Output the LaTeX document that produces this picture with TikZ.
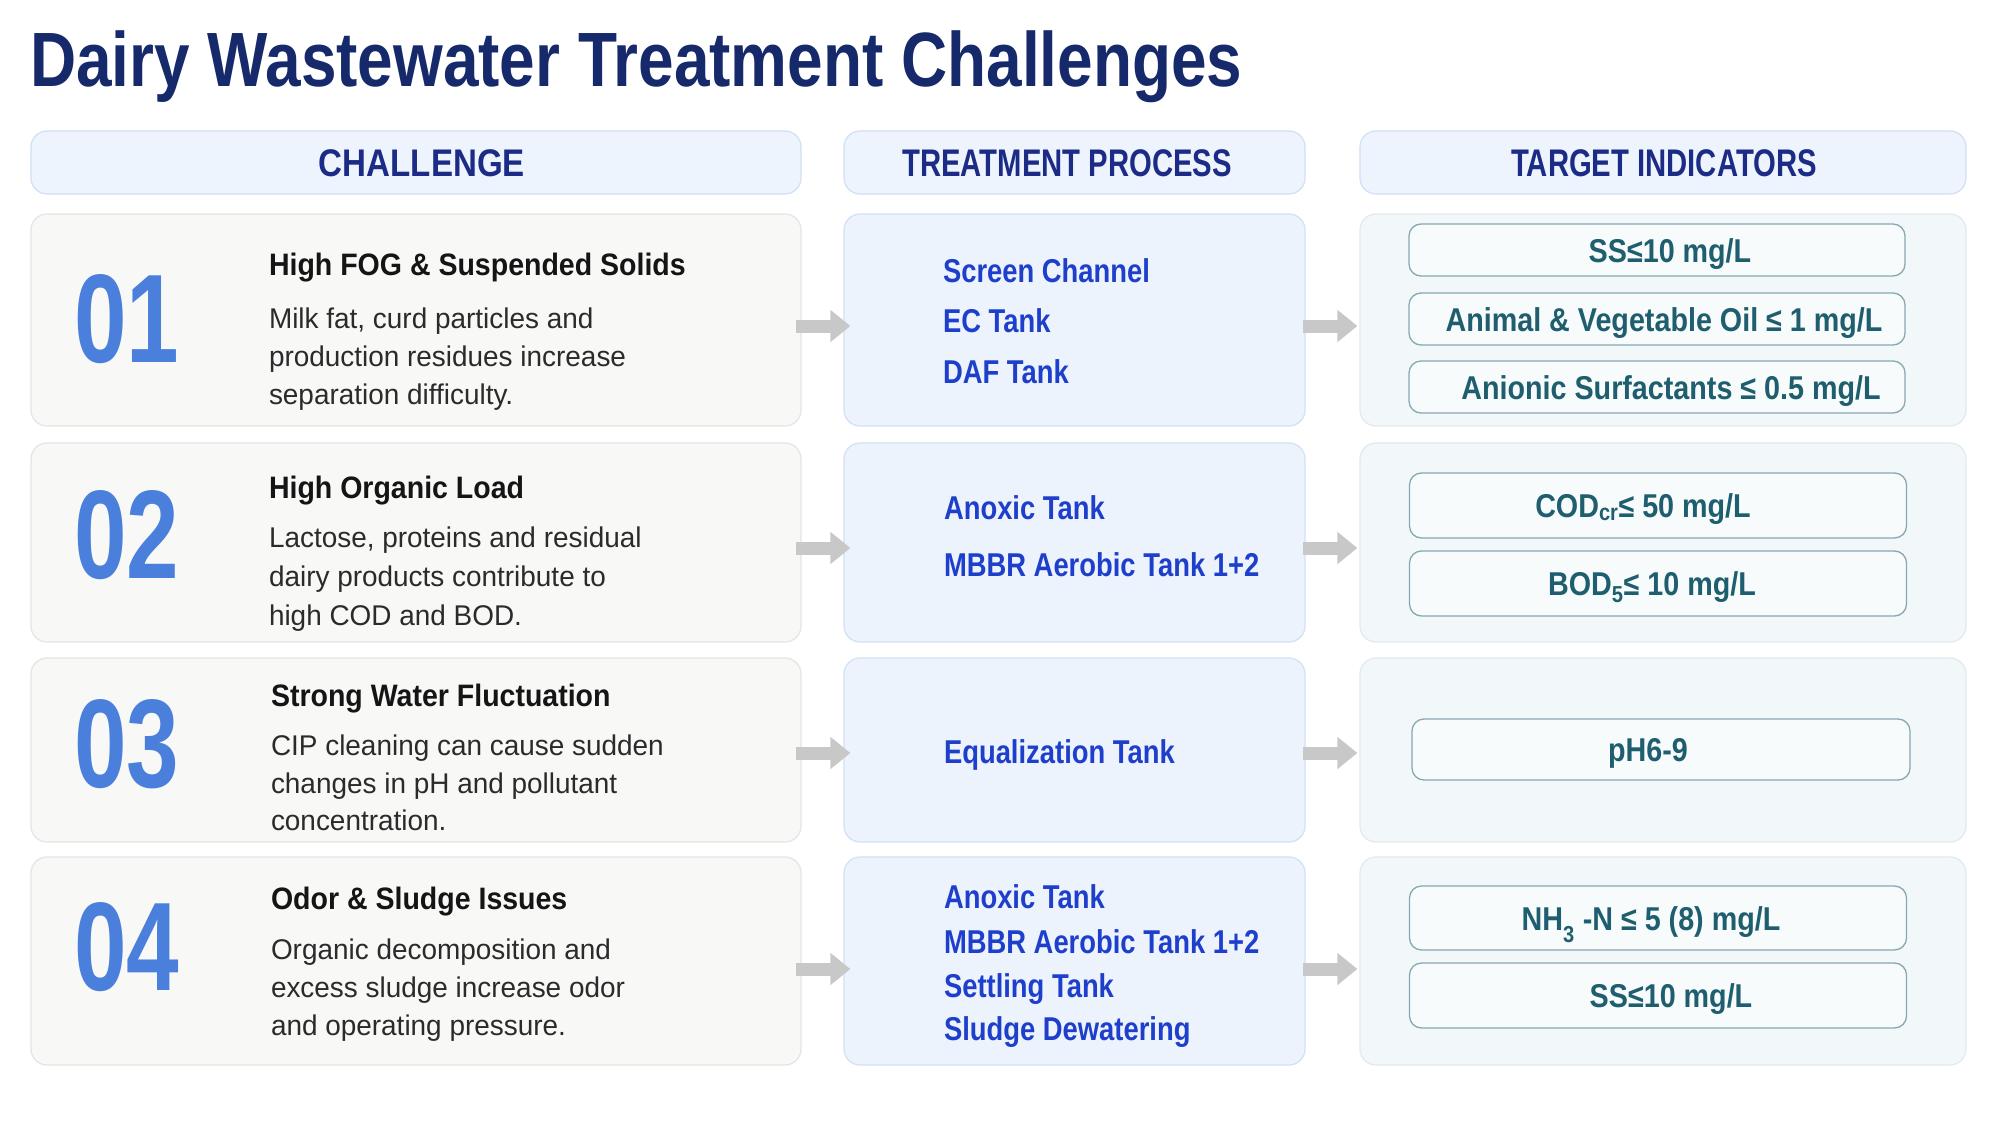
\documentclass[tikz,border=0pt]{standalone}
\usepackage{fontspec}
\setmainfont{Liberation Sans}
\newfontfamily\titlefont{Liberation Sans}[FakeStretch=0.83]
\newfontfamily\hdrfont{Liberation Sans}[FakeStretch=0.76]
\newfontfamily\hdrwfont{Liberation Sans}[FakeStretch=0.86]
\newfontfamily\numfont{Liberation Sans}[FakeStretch=0.75]
\newfontfamily\headfont{Liberation Sans}[FakeStretch=0.92]
\newfontfamily\bodyfont{Liberation Sans}[FakeStretch=0.98]
\newfontfamily\procfont{Liberation Sans}[FakeStretch=0.83]
\newfontfamily\targfont{Liberation Sans}[FakeStretch=0.87]
\usetikzlibrary{arrows.meta}
\definecolor{titlec}{HTML}{15296B}
\definecolor{hdrc}{HTML}{1C2C86}
\definecolor{numc}{HTML}{4A7FDB}
\definecolor{headc}{HTML}{151515}
\definecolor{bodyc}{HTML}{2B2B2B}
\definecolor{procc}{HTML}{1E3FCB}
\definecolor{targc}{HTML}{1F5E6E}
\definecolor{arrc}{HTML}{C8C8C8}
\definecolor{hdrfill}{HTML}{EEF4FD}
\definecolor{hdrdraw}{HTML}{D0E0F4}
\definecolor{chfill}{HTML}{F8F8F7}
\definecolor{chdraw}{HTML}{E4E4E2}
\definecolor{prfill}{HTML}{EDF3FC}
\definecolor{prdraw}{HTML}{D2E1F5}
\definecolor{tgfill}{HTML}{F2F7FA}
\definecolor{tgdraw}{HTML}{E0EAF0}
\definecolor{inbfill}{HTML}{F8FBFC}
\definecolor{inbdraw}{HTML}{86A8B0}
\begin{document}
\begin{tikzpicture}[x=1pt,y=-1pt,
  panel/.style={rectangle, rounded corners=16pt, line width=1.2pt, inner sep=0pt},
  hdrbox/.style={panel, fill=hdrfill, draw=hdrdraw},
  chbox/.style={panel, fill=chfill, draw=chdraw},
  prbox/.style={panel, fill=prfill, draw=prdraw},
  tgbox/.style={panel, fill=tgfill, draw=tgdraw},
  inbox/.style={rectangle, rounded corners=12pt, line width=1.3pt, inner sep=0pt, fill=inbfill, draw=inbdraw},
  txt/.style={inner sep=0pt, outer sep=0pt},
  hdrtext/.style={txt, anchor=base, text=hdrc, font=\hdrfont\bfseries\fontsize{38.5}{40}\selectfont},
  numtext/.style={txt, anchor=base west, text=numc, font=\numfont\bfseries\fontsize{126}{130}\selectfont},
  headtext/.style={txt, anchor=base west, text=headc, font=\headfont\bfseries\fontsize{31}{34}\selectfont},
  bodytext/.style={txt, anchor=base west, text=bodyc, font=\bodyfont\fontsize{28.5}{30}\selectfont},
  proctext/.style={txt, anchor=base west, text=procc, font=\procfont\bfseries\fontsize{33}{35}\selectfont},
  targtext/.style={txt, anchor=base, text=targc, font=\targfont\bfseries\fontsize{33}{35}\selectfont},
  flow/.style={draw=arrc, line width=13pt, -{Triangle[length=20pt,width=31pt]}}
]
\useasboundingbox (0,0) rectangle (2000,1126);
\fill[white] (0,0) rectangle (2000,1126);

% title
\node[txt, anchor=base west, text=titlec, font=\titlefont\bfseries\fontsize{77}{80}\selectfont] (title) at (30,87) {Dairy Wastewater Treatment Challenges};

% headers
\node[hdrbox, minimum width=770pt, minimum height=63pt] (h1) at (416,162.5) {};
\node[hdrbox, minimum width=461pt, minimum height=63pt] (h2) at (1074.5,162.5) {};
\node[hdrbox, minimum width=606pt, minimum height=63pt] (h3) at (1663,162.5) {};
\node[hdrtext, font=\hdrwfont\bfseries\fontsize{38.5}{40}\selectfont] (h1t) at (422,177) {CHALLENGE};
\node[hdrtext] (h2t) at (1067,177) {TREATMENT PROCESS};
\node[hdrtext] (h3t) at (1664,177) {TARGET INDICATORS};

% row panels
\node[chbox, minimum width=770pt, minimum height=212pt] (c1) at (416,320) {};
\node[chbox, minimum width=770pt, minimum height=199pt] (c2) at (416,542.5) {};
\node[chbox, minimum width=770pt, minimum height=184pt] (c3) at (416,750) {};
\node[chbox, minimum width=770pt, minimum height=208pt] (c4) at (416,961) {};

\node[prbox, minimum width=461pt, minimum height=212pt] (p1) at (1074.5,320) {};
\node[prbox, minimum width=461pt, minimum height=199pt] (p2) at (1074.5,542.5) {};
\node[prbox, minimum width=461pt, minimum height=184pt] (p3) at (1074.5,750) {};
\node[prbox, minimum width=461pt, minimum height=208pt] (p4) at (1074.5,961) {};

\node[tgbox, minimum width=606pt, minimum height=212pt] (t1) at (1663,320) {};
\node[tgbox, minimum width=606pt, minimum height=199pt] (t2) at (1663,542.5) {};
\node[tgbox, minimum width=606pt, minimum height=184pt] (t3) at (1663,750) {};
\node[tgbox, minimum width=606pt, minimum height=208pt] (t4) at (1663,961) {};

% challenge texts
\node[numtext] (n1) at (74,362) {01};
\node[headtext] (k1) at (269,276) {High FOG \& Suspended Solids};
\node[bodytext] (b1a) at (269,328) {Milk fat, curd particles and};
\node[bodytext] (b1b) at (269,366) {production residues increase};
\node[bodytext] (b1c) at (269,404) {separation difficulty.};

\node[numtext] (n2) at (74,578) {02};
\node[headtext] (k2) at (269,498) {High Organic Load};
\node[bodytext] (b2a) at (269,547) {Lactose, proteins and residual};
\node[bodytext] (b2b) at (269,586) {dairy products contribute to};
\node[bodytext] (b2c) at (269,625) {high COD and BOD.};

\node[numtext] (n3) at (74,787) {03};
\node[headtext] (k3) at (271,706) {Strong Water Fluctuation};
\node[bodytext] (b3a) at (271,755) {CIP cleaning can cause sudden};
\node[bodytext] (b3b) at (271,793) {changes in pH and pollutant};
\node[bodytext] (b3c) at (271,830) {concentration.};

\node[numtext] (n4) at (74,990) {04};
\node[headtext] (k4) at (271,909) {Odor \& Sludge Issues};
\node[bodytext] (b4a) at (271,959) {Organic decomposition and};
\node[bodytext] (b4b) at (271,997) {excess sludge increase odor};
\node[bodytext] (b4c) at (271,1035) {and operating pressure.};

% process texts
\node[proctext] (q1a) at (943,282) {Screen Channel};
\node[proctext] (q1b) at (943,332) {EC Tank};
\node[proctext] (q1c) at (943,383) {DAF Tank};

\node[proctext] (q2a) at (944,519) {Anoxic Tank};
\node[proctext] (q2b) at (944,576) {MBBR Aerobic Tank 1+2};

\node[proctext] (q3a) at (944,763) {Equalization Tank};

\node[proctext] (q4a) at (944,908) {Anoxic Tank};
\node[proctext] (q4b) at (944,953) {MBBR Aerobic Tank 1+2};
\node[proctext] (q4c) at (944,997) {Settling Tank};
\node[proctext] (q4d) at (944,1040) {Sludge Dewatering};

% target boxes
\node[inbox, minimum width=496pt, minimum height=52pt] (g1a) at (1657,250) {};
\node[inbox, minimum width=496pt, minimum height=52pt] (g1b) at (1657,319) {};
\node[inbox, minimum width=496pt, minimum height=52pt] (g1c) at (1657,387) {};
\node[inbox, minimum width=497pt, minimum height=65pt] (g2a) at (1658,505.5) {};
\node[inbox, minimum width=497pt, minimum height=65pt] (g2b) at (1658,583.5) {};
\node[inbox, minimum width=498pt, minimum height=61pt] (g3a) at (1661,749.5) {};
\node[inbox, minimum width=497pt, minimum height=64pt] (g4a) at (1658,918) {};
\node[inbox, minimum width=497pt, minimum height=65pt] (g4b) at (1658,995.5) {};

\node[targtext] (r1a) at (1670,262) {SS≤10 mg/L};
\node[targtext] (r1b) at (1664,331) {Animal \& Vegetable Oil ≤ 1 mg/L};
\node[targtext] (r1c) at (1671,399) {Anionic Surfactants ≤ 0.5 mg/L};
\node[targtext] (r2a) at (1643,517) {COD\textsubscript{cr}≤ 50 mg/L};
\node[targtext] (r2b) at (1652,595) {BOD\textsubscript{5}≤ 10 mg/L};
\node[targtext] (r3a) at (1648,761) {pH6-9};
\node[targtext] (r4a) at (1651,930) {NH\raisebox{-0.3ex}{\textsubscript{3}} -N ≤ 5 (8) mg/L};
\node[targtext] (r4b) at (1671,1007) {SS≤10 mg/L};

% arrows
\draw[flow] ([xshift=-6pt,yshift=-6pt]c1.east) -- ([xshift=7pt,yshift=-6pt]p1.west);
\draw[flow] ([xshift=-6pt,yshift=-5.5pt]c2.east) -- ([xshift=7pt,yshift=-5.5pt]p2.west);
\draw[flow] ([xshift=-6pt,yshift=-3pt]c3.east) -- ([xshift=7pt,yshift=-3pt]p3.west);
\draw[flow] ([xshift=-6pt,yshift=-8pt]c4.east) -- ([xshift=7pt,yshift=-8pt]p4.west);
\draw[flow] ([xshift=-3pt,yshift=-6pt]p1.east) -- ([xshift=-2pt,yshift=-6pt]t1.west);
\draw[flow] ([xshift=-3pt,yshift=-5.5pt]p2.east) -- ([xshift=-2pt,yshift=-5.5pt]t2.west);
\draw[flow] ([xshift=-3pt,yshift=-3pt]p3.east) -- ([xshift=-2pt,yshift=-3pt]t3.west);
\draw[flow] ([xshift=-3pt,yshift=-8pt]p4.east) -- ([xshift=-2pt,yshift=-8pt]t4.west);
\end{tikzpicture}
\end{document}
